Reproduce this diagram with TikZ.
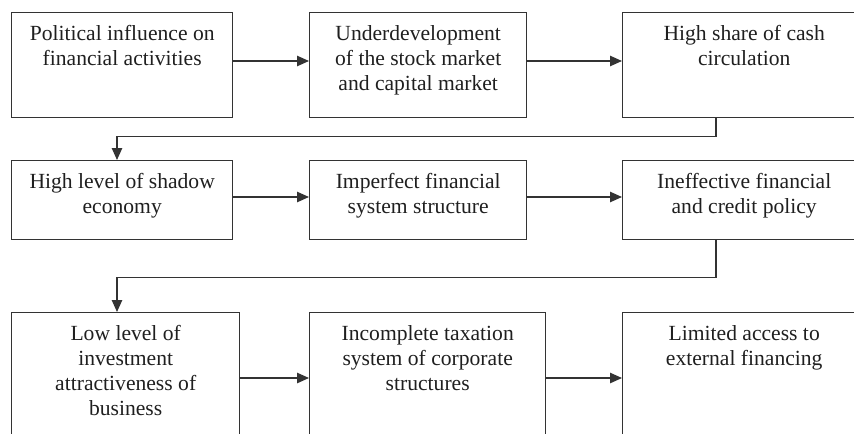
\documentclass[tikz,border=0pt]{standalone}
\usepackage{fontspec}
\setmainfont{Liberation Serif}
\usepackage{tikz}
\usetikzlibrary{arrows.meta,positioning,calc}

\begin{document}
\begin{tikzpicture}[
  x=0.5pt, y=-0.5pt, line width=0.7pt,
  box/.style={draw=black!80, inner sep=0pt, anchor=north west},
  boxtext/.style={anchor=north, inner sep=0pt, align=center, text=black!88,
                  font=\fontsize{10.8pt}{12.5pt}\selectfont},
  arr/.style={-{Triangle[length=6pt, width=5.2pt]}, draw=black!80, line width=0.7pt}
]
  \clip (0,0) rectangle (854,433);

  % Row 1
  \node[box, minimum width=110.5pt, minimum height=52.5pt] (b11) at (11,12) {};
  \node[box, minimum width=108.5pt, minimum height=52.5pt] (b12) at (309,12) {};
  \node[box, minimum width=121.5pt, minimum height=52.5pt] (b13) at (622,12) {};

  % Row 2
  \node[box, minimum width=110.5pt, minimum height=39.5pt] (b21) at (11,160) {};
  \node[box, minimum width=108.5pt, minimum height=39.5pt] (b22) at (309,160) {};
  \node[box, minimum width=121.5pt, minimum height=39.5pt] (b23) at (622,160) {};

  % Row 3
  \node[box, minimum width=114pt, minimum height=66pt] (b31) at (11,312) {};
  \node[box, minimum width=118pt, minimum height=66pt] (b32) at (309,312) {};
  \node[box, minimum width=121.5pt, minimum height=66pt] (b33) at (622,312) {};

  % Texts
  \node[boxtext] (t11) at ([yshift=-6.5pt]b11.north) {Political influence on\\financial activities};
  \node[boxtext] (t12) at ([yshift=-6.5pt]b12.north) {Underdevelopment\\of the stock market\\and capital market};
  \node[boxtext] (t13) at ([yshift=-6.5pt]b13.north) {High share of cash\\circulation};
  \node[boxtext] (t21) at ([yshift=-6.5pt]b21.north) {High level of shadow\\economy};
  \node[boxtext] (t22) at ([yshift=-6.5pt]b22.north) {Imperfect financial\\system structure};
  \node[boxtext] (t23) at ([yshift=-6.5pt]b23.north) {Ineffective financial\\and credit policy};
  \node[boxtext] (t31) at ([yshift=-6.5pt]b31.north) {Low level of\\investment\\attractiveness of\\business};
  \node[boxtext] (t32) at ([yshift=-6.5pt]b32.north) {Incomplete taxation\\system of corporate\\structures};
  \node[boxtext] (t33) at ([yshift=-6.5pt]b33.north) {Limited access to\\external financing};

  % Arrows within rows
  \draw[arr] ([yshift=-24.5pt]b11.north east) -- ([yshift=-24.5pt]b12.north west);
  \draw[arr] ([yshift=-24.5pt]b12.north east) -- ([yshift=-24.5pt]b13.north west);
  \draw[arr] ([yshift=-18.5pt]b21.north east) -- ([yshift=-18.5pt]b22.north west);
  \draw[arr] ([yshift=-18.5pt]b22.north east) -- ([yshift=-18.5pt]b23.north west);
  \draw[arr] ([yshift=-33pt]b31.north east) -- ([yshift=-33pt]b32.north west);
  \draw[arr] ([yshift=-33pt]b32.north east) -- ([yshift=-33pt]b33.north west);

  % Row to row
  \draw[arr] ([xshift=47pt]b13.south west) -- ++(0,18) -| ([xshift=53pt]b21.north west);
  \draw[arr] ([xshift=47pt]b23.south west) -- ++(0,37) -| ([xshift=53pt]b31.north west);
\end{tikzpicture}
\end{document}
